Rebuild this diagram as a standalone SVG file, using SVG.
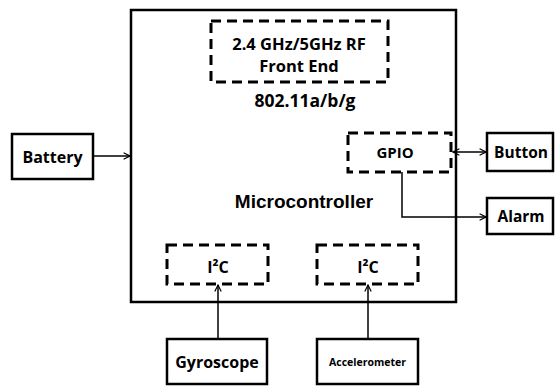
<svg xmlns="http://www.w3.org/2000/svg" width="555" height="386" viewBox="0 0 555 386">
<style>
.box{fill:#fff;stroke:#000;stroke-width:2.5}
.dash{fill:none;stroke:#000;stroke-width:3;stroke-dasharray:10 6}
.t{font-family:"Open Sans","Liberation Sans",sans-serif;font-weight:bold;font-size:16px;text-anchor:middle;dominant-baseline:central;fill:#000}
.a{font-family:"Liberation Sans",Arial,sans-serif;font-size:19px}
.c{fill:none;stroke:#000;stroke-width:1.5}
</style>
<defs>
<marker id="a" viewBox="0 0 10 10" refX="9" refY="5" markerWidth="8" markerHeight="8" markerUnits="userSpaceOnUse" orient="auto-start-reverse">
<path d="M1,1 L9,5 L1,9" fill="none" stroke="#000" stroke-width="1.5"/>
</marker>
</defs>
<g id="microcontroller">
<rect class="box" x="131" y="10" width="325" height="292"/>
<text class="t a" x="304" y="201">Microcontroller</text>
</g>
<g id="rf">
<rect class="dash" x="211" y="21" width="177" height="61"/>
<text class="t" x="299" y="43" style="font-size:16.5px">2.4 GHz/5GHz RF</text>
<text class="t" x="299" y="65" style="font-size:16.5px">Front End</text>
<text class="t" x="305" y="100" style="font-size:17.5px">802.11a/b/g</text>
</g>
<g id="gpio">
<rect class="dash" x="348" y="133" width="103" height="39"/>
<text class="t" x="395" y="152" style="font-size:15px">GPIO</text>
</g>
<g id="i2c1">
<rect class="dash" x="167" y="245" width="101" height="39"/>
<text class="t" x="218" y="267">I²C</text>
</g>
<g id="i2c2">
<rect class="dash" x="317" y="245" width="101" height="39"/>
<text class="t" x="368" y="267">I²C</text>
</g>
<g id="battery">
<rect class="box" x="12" y="134" width="81" height="45"/>
<text class="t" x="52.500" y="156.500">Battery</text>
</g>
<g id="button">
<rect class="box" x="487" y="133" width="66" height="38"/>
<text class="t" x="521" y="152" style="font-size:15.5px">Button</text>
</g>
<g id="alarm">
<rect class="box" x="487" y="198" width="66" height="36"/>
<text class="t" x="521" y="216" style="font-size:15.5px">Alarm</text>
</g>
<g id="gyroscope">
<rect class="box" x="167" y="339" width="100" height="45"/>
<text class="t" x="217" y="362">Gyroscope</text>
</g>
<g id="accelerometer">
<rect class="box" x="317" y="339" width="101" height="45"/>
<text class="t" x="367.500" y="362" style="font-size:10.5px">Accelerometer</text>
</g>
<g id="connectors">
<line class="c" x1="93" y1="156" x2="130" y2="156" marker-end="url(#a)"/>
<line class="c" x1="453" y1="152" x2="486" y2="152" marker-start="url(#a)" marker-end="url(#a)"/>
<polyline class="c" points="402,172 402,217 486,217" marker-end="url(#a)"/>
<line class="c" x1="218" y1="339" x2="218" y2="285" marker-end="url(#a)"/>
<line class="c" x1="368" y1="339" x2="368" y2="285" marker-end="url(#a)"/>
</g>
</svg>
